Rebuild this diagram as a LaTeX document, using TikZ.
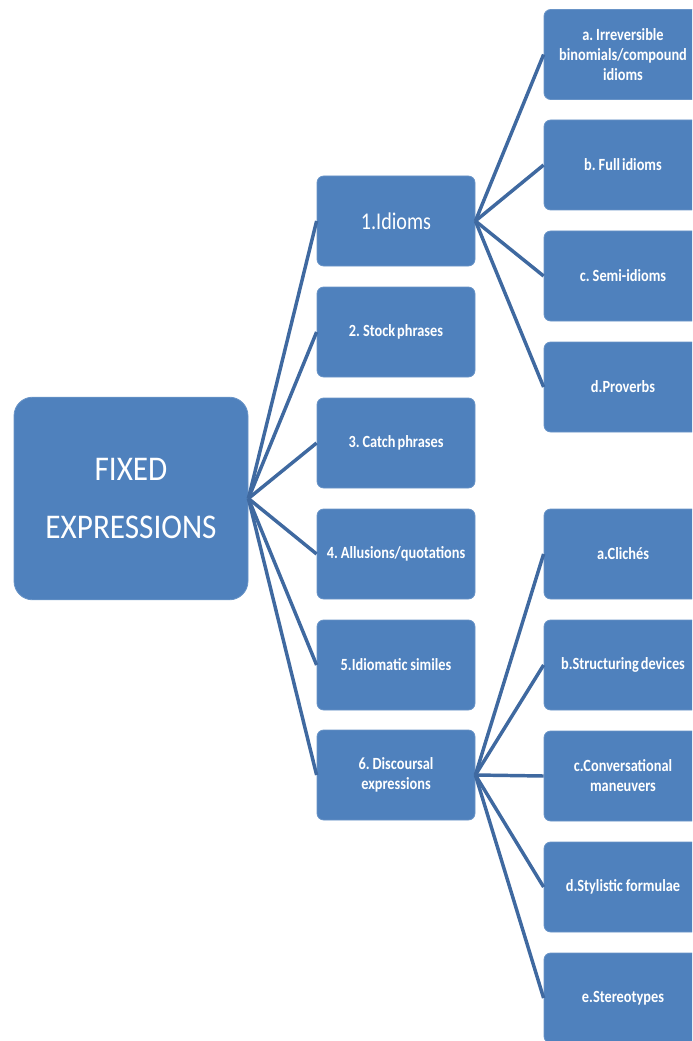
\documentclass[tikz,border=0pt]{standalone}
\usepackage{fontspec}
\setmainfont{Carlito}[FakeStretch=0.9]
\newfontfamily\labelfont{Carlito}[FakeStretch=0.84,WordSpace=0.6]
\definecolor{boxblue}{HTML}{4F81BD}
\definecolor{linkblue}{HTML}{3F69A0}
\begin{document}
\begin{tikzpicture}[x=0.75pt,y=-0.75pt,
  box/.style={fill=boxblue,draw=boxblue!85!white,line width=0.6pt,rounded corners=5pt,
    text=white,align=center,minimum width=118.5pt,minimum height=67.5pt,inner sep=0pt,
    font=\labelfont\bfseries\fontsize{12.8}{15}\selectfont},
  rootbox/.style={box,rounded corners=14pt,minimum width=175.5pt,minimum height=152pt,
    font=\rmfamily\fontsize{26}{43.5}\selectfont},
  bigtext/.style={font=\labelfont\fontsize{18}{20}\selectfont},
  link/.style={draw=linkblue,line width=2.6pt}]
\useasboundingbox (0,0) rectangle (692,1041);
\clip (0,0) rectangle (692,1041);

% root
\node[rootbox] (root) at (131,498.5) {FIXED\\EXPRESSIONS};

% main categories
\node[box,bigtext] (m1) at (396,221) {1.Idioms};
\node[box] (m2) at (396,332) {2. Stock phrases};
\node[box] (m3) at (396,443) {3. Catch phrases};
\node[box] (m4) at (396,554) {4. Allusions/quotations};
\node[box] (m5) at (396,665) {5.Idiomatic\,similes};
\node[box] (m6) at (396,775) {6. Discoursal\\expressions};

% kinds of idioms
\node[box] (i1) at (623,54.5) {a. Irreversible\\binomials/compound\\idioms};
\node[box] (i2) at (623,165) {b. Full idioms};
\node[box] (i3) at (623,276) {c. Semi-idioms};
\node[box] (i4) at (623,387) {d.Proverbs};

% kinds of discoursal expressions
\node[box] (d1) at (623,554) {a.Clichés};
\node[box] (d2) at (623,665) {b.Structuring devices};
\node[box] (d3) at (623,776) {c.Conversational\\maneuvers};
\node[box] (d4) at (623,887) {d.Stylistic\,formulae};
\node[box] (d5) at (623,998) {e.Stereotypes};

% connectors
\foreach \m in {m1,m2,m3,m4,m5,m6} \draw[link] (root.east) -- (\m.west);
\foreach \i in {i1,i2,i3,i4} \draw[link] (m1.east) -- (\i.west);
\foreach \d in {d1,d2,d3,d4,d5} \draw[link] (m6.east) -- (\d.west);
\end{tikzpicture}
\end{document}
